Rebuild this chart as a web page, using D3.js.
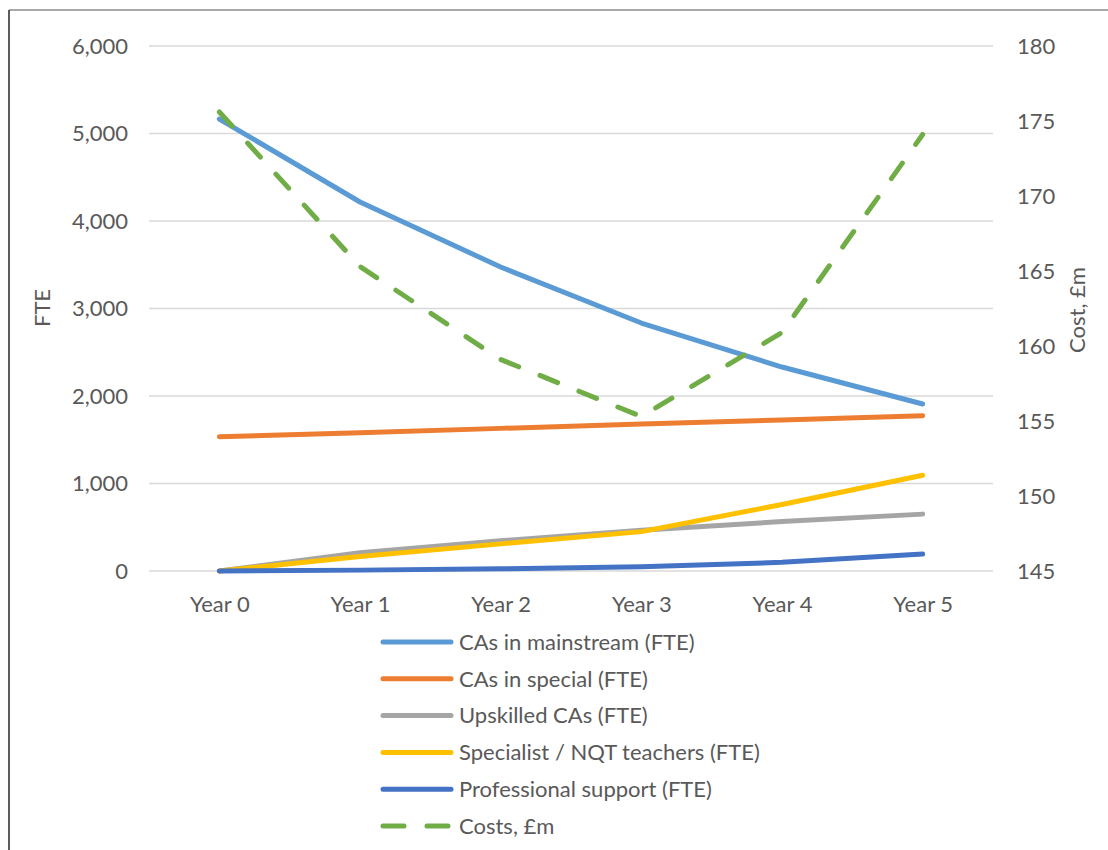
<!DOCTYPE html>
<html>
<head>
<meta charset="utf-8">
<script src="https://cdn.jsdelivr.net/npm/d3@7"></script>
<style>
  html, body { margin: 0; padding: 0; background: #fff; }
  svg text { font-family: Lato, "Open Sans", sans-serif; fill: #595959; }
</style>
</head>
<body>
<svg id="chart" width="1108" height="850"></svg>
<script>
// Categories and series
const years = ["Year 0", "Year 1", "Year 2", "Year 3", "Year 4", "Year 5"];
const casMainstream = [5165, 4217, 3474, 2834, 2331, 1909];
const casSpecial = [1535, 1580, 1630, 1680, 1725, 1775];
const upskilledCAs = [0, 210, 345, 465, 565, 650];
const specialistTeachers = [0, 165, 310, 450, 760, 1095];
const professionalSupport = [0, 10, 25, 49, 99, 194];
const costs = [175.6, 165.3, 159.1, 155.3, 160.9, 174.1];

const fteTicks = [0, 1000, 2000, 3000, 4000, 5000, 6000];
const costTicks = [145, 150, 155, 160, 165, 170, 175, 180];

const series = [
  { name: "CAs in mainstream (FTE)", values: casMainstream, color: "#5b9bd5", axis: "left" },
  { name: "CAs in special (FTE)", values: casSpecial, color: "#ed7d31", axis: "left" },
  { name: "Upskilled CAs (FTE)", values: upskilledCAs, color: "#a5a5a5", axis: "left" },
  { name: "Specialist / NQT teachers (FTE)", values: specialistTeachers, color: "#ffc000", axis: "left" },
  { name: "Professional support (FTE)", values: professionalSupport, color: "#4472c4", axis: "left" },
  { name: "Costs, £m", values: costs, color: "#70ad47", axis: "right", dashed: true }
];

const fontSize = "22px";
const svg = d3.select("#chart");

// Frame lines
svg.append("line").attr("x1", 9).attr("x2", 1108).attr("y1", 10).attr("y2", 10)
  .attr("stroke", "#8c8c8c").attr("stroke-width", 1.5);
svg.append("line").attr("x1", 9).attr("x2", 9).attr("y1", 10).attr("y2", 850)
  .attr("stroke", "#262626").attr("stroke-width", 1.5);

const plot = { left: 149, right: 993, top: 46, bottom: 571 };

const x = d3.scalePoint().domain(years).range([plot.left, plot.right]).padding(0.5);
const yL = d3.scaleLinear().domain([0, 6000]).range([plot.bottom, plot.top]);
const yR = d3.scaleLinear().domain([145, 180]).range([plot.bottom, plot.top]);

// Horizontal gridlines
svg.append("g").selectAll("line").data(fteTicks).join("line")
  .attr("x1", plot.left).attr("x2", plot.right)
  .attr("y1", d => yL(d)).attr("y2", d => yL(d))
  .attr("stroke", "#d9d9d9").attr("stroke-width", 1.5);

// Left axis
const leftAxis = svg.append("g")
  .attr("transform", `translate(${plot.left},0)`)
  .call(d3.axisLeft(yL).tickValues(fteTicks).tickFormat(d3.format(",")).tickSize(0).tickPadding(21));
leftAxis.select(".domain").remove();
leftAxis.selectAll("text").style("font-size", fontSize).style("font-family", "Lato, sans-serif").attr("fill", "#595959");

// Right axis
const rightAxis = svg.append("g")
  .attr("transform", `translate(${plot.right},0)`)
  .call(d3.axisRight(yR).tickValues(costTicks).tickFormat(d3.format("d")).tickSize(0).tickPadding(24));
rightAxis.select(".domain").remove();
rightAxis.selectAll("text").style("font-size", fontSize).style("font-family", "Lato, sans-serif").attr("fill", "#595959");

// Category axis
const bottomAxis = svg.append("g")
  .attr("transform", `translate(0,${plot.bottom})`)
  .call(d3.axisBottom(x).tickSize(0).tickPadding(25));
bottomAxis.select(".domain").remove();
bottomAxis.selectAll("text").style("font-size", fontSize).style("font-family", "Lato, sans-serif").attr("fill", "#595959");

// Axis titles
svg.append("text")
  .attr("transform", "translate(50,308) rotate(-90)")
  .attr("text-anchor", "middle")
  .style("font-size", fontSize)
  .text("FTE");
svg.append("text")
  .attr("transform", "translate(1085,310) rotate(-90)")
  .attr("text-anchor", "middle")
  .style("font-size", fontSize)
  .text("Cost, £m");

// Series lines
const lineFor = s => d3.line()
  .x((d, i) => x(years[i]))
  .y(d => (s.axis === "left" ? yL(d) : yR(d)));

svg.append("g").selectAll("path").data(series).join("path")
  .attr("d", s => lineFor(s)(s.values))
  .attr("fill", "none")
  .attr("stroke", s => s.color)
  .attr("stroke-width", 5)
  .attr("stroke-linecap", "round")
  .attr("stroke-linejoin", "round")
  .attr("stroke-dasharray", s => s.dashed ? "19,23" : null);

// Legend
const legend = svg.append("g").attr("transform", "translate(381,642)");
const rows = legend.selectAll("g").data(series).join("g")
  .attr("transform", (d, i) => `translate(0,${i * 36.8})`);
rows.append("line")
  .attr("x1", 2).attr("x2", 70).attr("y1", 0).attr("y2", 0)
  .attr("stroke", d => d.color)
  .attr("stroke-width", 5)
  .attr("stroke-linecap", "round")
  .attr("stroke-dasharray", d => d.dashed ? "21,23" : null);
rows.append("text")
  .attr("x", 78).attr("y", 0).attr("dy", "0.35em")
  .style("font-size", fontSize)
  .text(d => d.name);
</script>
</body>
</html>
